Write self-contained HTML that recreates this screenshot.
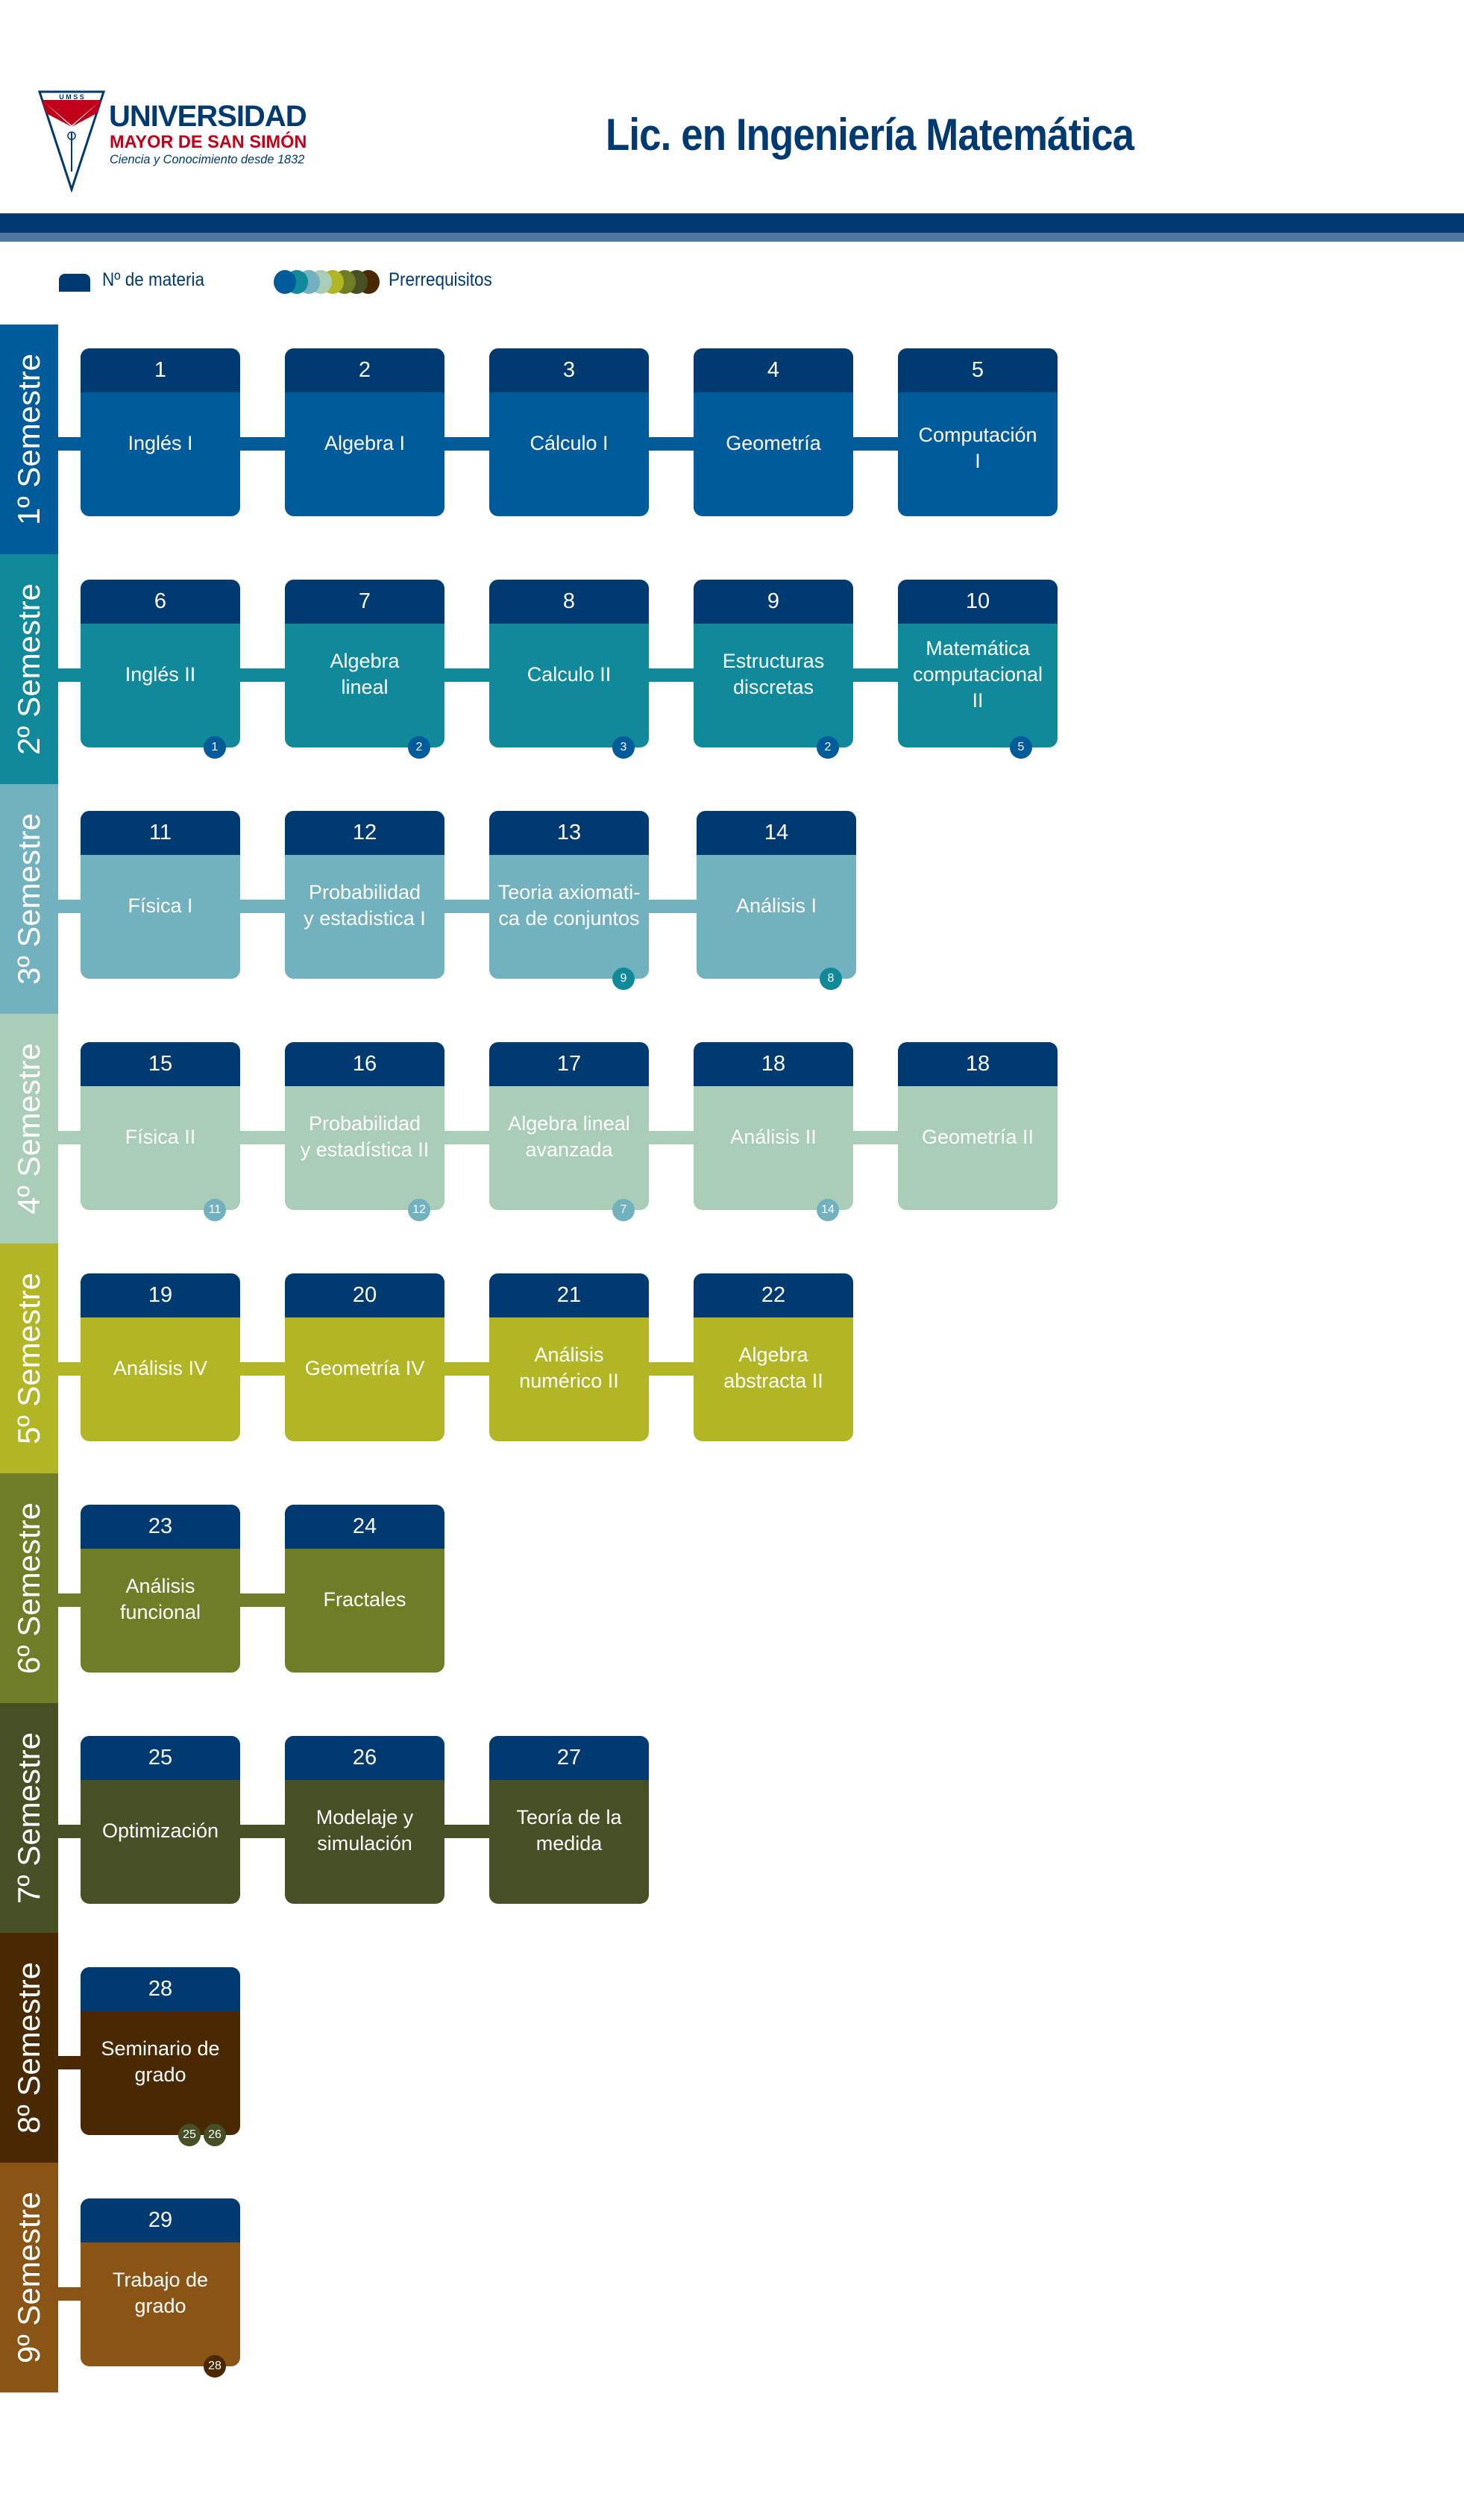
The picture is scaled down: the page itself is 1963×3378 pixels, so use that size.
<!DOCTYPE html>
<html><head><meta charset="utf-8">
<style>
*{margin:0;padding:0;box-sizing:border-box}
body{width:1963px;height:3378px;background:#fff;position:relative;overflow:hidden;font-family:"Liberation Sans",sans-serif}
.a{position:absolute}
.bar{position:absolute;left:0;width:78px;height:308px}
.bar span{position:absolute;left:50%;top:50%;transform:translate(-50%,-50%) rotate(-90deg);white-space:nowrap;color:#fff;font-size:42px}
.con{position:absolute;left:0;height:18px}
.box{position:absolute;width:214px;height:225px;border-radius:12px;overflow:visible}
.box .h{position:absolute;left:0;top:0;width:100%;height:59px;background:#003a70;border-radius:12px 12px 0 0;color:#fff;font-size:29px;text-align:center;line-height:59px}
.box .t{position:absolute;left:0;top:0;width:100%;height:254px;display:flex;align-items:center;justify-content:center;text-align:center;color:#fff;font-size:27px;line-height:35px;padding:0 4px}
.b{position:absolute;width:30px;height:30px;border-radius:50%;color:#fff;font-size:16px;line-height:30px;text-align:center;top:210px}
</style></head><body>

<svg class="a" style="left:50px;top:120px" width="92" height="138" viewBox="0 0 92 138">
<polygon points="3,3 89,3 46,134" fill="#fff" stroke="#003a70" stroke-width="3"/>
<polygon points="6,14 46,50 86,14 80,32 46,50 12,32" fill="#c00018"/>
<polygon points="8,16 46,48 84,16 84,14 8,14" fill="#c00018"/>
<text x="46" y="13" font-size="9" fill="#003a70" text-anchor="middle" font-family="Liberation Sans" font-weight="bold">U M S S</text>
<line x1="46" y1="58" x2="46" y2="110" stroke="#003a70" stroke-width="2"/>
<circle cx="46" cy="62" r="5" fill="none" stroke="#003a70" stroke-width="1.5"/>
</svg>
<div class="a" style="left:146px;top:134px;font-size:40px;font-weight:bold;color:#003a70;transform:scaleX(1.0);transform-origin:left;white-space:nowrap;letter-spacing:-1px">UNIVERSIDAD</div>
<div class="a" style="left:147px;top:177px;font-size:24px;font-weight:bold;color:#c00018;transform:scaleX(.98);transform-origin:left;white-space:nowrap">MAYOR DE SAN SIMÓN</div>
<div class="a" style="left:147px;top:204px;font-size:17px;font-style:italic;color:#003a70;transform:scaleX(.96);transform-origin:left;white-space:nowrap">Ciencia y Conocimiento desde 1832</div>

<div class="a" style="left:812px;top:146px;font-size:60px;font-weight:bold;color:#003a70;transform:scaleX(.88);transform-origin:left;white-space:nowrap;letter-spacing:-1px">Lic. en Ingeniería Matemática</div>

<div class="a" style="left:0;top:286px;width:1963px;height:26px;background:#003a70"></div>
<div class="a" style="left:0;top:312px;width:1963px;height:12px;background:#4f77a0"></div>

<div class="a" style="left:79px;top:367px;width:42px;height:24px;background:#003a70;border-radius:8px 8px 0 0"></div>
<div class="a" style="left:137px;top:361px;font-size:25px;color:#003a70;white-space:nowrap;transform:scaleX(.9);transform-origin:left">Nº de materia</div>
<div class="a" style="left:367px;top:362px;width:150px;height:32px">
<div class="a" style="left:112px;top:0;width:30px;height:32px;border-radius:50%;background:#482903"></div>
<div class="a" style="left:96px;top:0;width:30px;height:32px;border-radius:50%;background:#474f25"></div>
<div class="a" style="left:80px;top:0;width:30px;height:32px;border-radius:50%;background:#6f7d27"></div>
<div class="a" style="left:64px;top:0;width:30px;height:32px;border-radius:50%;background:#b2b624"></div>
<div class="a" style="left:48px;top:0;width:30px;height:32px;border-radius:50%;background:#a9cdb6"></div>
<div class="a" style="left:32px;top:0;width:30px;height:32px;border-radius:50%;background:#72b1be"></div>
<div class="a" style="left:16px;top:0;width:30px;height:32px;border-radius:50%;background:#10899a"></div>
<div class="a" style="left:0;top:0;width:30px;height:32px;border-radius:50%;background:#005b9a"></div>
</div>
<div class="a" style="left:521px;top:361px;font-size:25px;color:#003a70;white-space:nowrap;transform:scaleX(.9);transform-origin:left">Prerrequisitos</div>

<div class="con" style="top:586px;width:1204px;background:#005b9a"></div>
<div class="bar" style="top:435px;background:#005b9a"><span>1º Semestre</span></div>
<div class="box" style="left:108px;top:467px;background:#005b9a"><div class="h">1</div><div class="t">Inglés I</div></div>
<div class="box" style="left:382px;top:467px;background:#005b9a"><div class="h">2</div><div class="t">Algebra I</div></div>
<div class="box" style="left:656px;top:467px;background:#005b9a"><div class="h">3</div><div class="t">Cálculo I</div></div>
<div class="box" style="left:930px;top:467px;background:#005b9a"><div class="h">4</div><div class="t">Geometría</div></div>
<div class="box" style="left:1204px;top:467px;background:#005b9a"><div class="h">5</div><div class="t" style="padding-top:14px">Computación<br>I</div></div>

<div class="con" style="top:896px;width:1204px;background:#10899a"></div>
<div class="bar" style="top:743px;background:#10899a"><span>2º Semestre</span></div>
<div class="box" style="left:108px;top:777px;background:#10899a"><div class="h">6</div><div class="t">Inglés II</div><div class="b" style="left:165px;background:#005b9a">1</div></div>
<div class="box" style="left:382px;top:777px;background:#10899a"><div class="h">7</div><div class="t">Algebra<br>lineal</div><div class="b" style="left:165px;background:#005b9a">2</div></div>
<div class="box" style="left:656px;top:777px;background:#10899a"><div class="h">8</div><div class="t">Calculo II</div><div class="b" style="left:165px;background:#005b9a">3</div></div>
<div class="box" style="left:930px;top:777px;background:#10899a"><div class="h">9</div><div class="t">Estructuras<br>discretas</div><div class="b" style="left:165px;background:#005b9a">2</div></div>
<div class="box" style="left:1204px;top:777px;background:#10899a"><div class="h">10</div><div class="t">Matemática<br>computacional<br>II</div><div class="b" style="left:150px;background:#005b9a">5</div></div>

<div class="con" style="top:1206px;width:934px;background:#72b1be"></div>
<div class="bar" style="top:1051px;background:#72b1be"><span>3º Semestre</span></div>
<div class="box" style="left:108px;top:1087px;background:#72b1be"><div class="h">11</div><div class="t">Física I</div></div>
<div class="box" style="left:382px;top:1087px;background:#72b1be"><div class="h">12</div><div class="t">Probabilidad<br>y estadistica I</div></div>
<div class="box" style="left:656px;top:1087px;background:#72b1be"><div class="h">13</div><div class="t">Teoria axiomati-<br>ca de conjuntos</div><div class="b" style="left:165px;background:#10899a">9</div></div>
<div class="box" style="left:934px;top:1087px;background:#72b1be"><div class="h">14</div><div class="t">Análisis I</div><div class="b" style="left:165px;background:#10899a">8</div></div>

<div class="con" style="top:1516px;width:1204px;background:#a9cdb6"></div>
<div class="bar" style="top:1359px;background:#a9cdb6"><span>4º Semestre</span></div>
<div class="box" style="left:108px;top:1397px;background:#a9cdb6"><div class="h">15</div><div class="t">Física II</div><div class="b" style="left:165px;background:#72b1be">11</div></div>
<div class="box" style="left:382px;top:1397px;background:#a9cdb6"><div class="h">16</div><div class="t">Probabilidad<br>y estadística II</div><div class="b" style="left:165px;background:#72b1be">12</div></div>
<div class="box" style="left:656px;top:1397px;background:#a9cdb6"><div class="h">17</div><div class="t">Algebra lineal<br>avanzada</div><div class="b" style="left:165px;background:#72b1be">7</div></div>
<div class="box" style="left:930px;top:1397px;background:#a9cdb6"><div class="h">18</div><div class="t">Análisis II</div><div class="b" style="left:165px;background:#72b1be">14</div></div>
<div class="box" style="left:1204px;top:1397px;background:#a9cdb6"><div class="h">18</div><div class="t">Geometría II</div></div>

<div class="con" style="top:1826px;width:930px;background:#b2b624"></div>
<div class="bar" style="top:1667px;background:#b2b624"><span>5º Semestre</span></div>
<div class="box" style="left:108px;top:1707px;background:#b2b624"><div class="h">19</div><div class="t">Análisis IV</div></div>
<div class="box" style="left:382px;top:1707px;background:#b2b624"><div class="h">20</div><div class="t">Geometría IV</div></div>
<div class="box" style="left:656px;top:1707px;background:#b2b624"><div class="h">21</div><div class="t">Análisis<br>numérico II</div></div>
<div class="box" style="left:930px;top:1707px;background:#b2b624"><div class="h">22</div><div class="t">Algebra<br>abstracta II</div></div>

<div class="con" style="top:2136px;width:382px;background:#6f7d27"></div>
<div class="bar" style="top:1975px;background:#6f7d27"><span>6º Semestre</span></div>
<div class="box" style="left:108px;top:2017px;background:#6f7d27"><div class="h">23</div><div class="t">Análisis<br>funcional</div></div>
<div class="box" style="left:382px;top:2017px;background:#6f7d27"><div class="h">24</div><div class="t">Fractales</div></div>

<div class="con" style="top:2446px;width:656px;background:#474f25"></div>
<div class="bar" style="top:2283px;background:#474f25"><span>7º Semestre</span></div>
<div class="box" style="left:108px;top:2327px;background:#474f25"><div class="h">25</div><div class="t">Optimización</div></div>
<div class="box" style="left:382px;top:2327px;background:#474f25"><div class="h">26</div><div class="t">Modelaje y<br>simulación</div></div>
<div class="box" style="left:656px;top:2327px;background:#474f25"><div class="h">27</div><div class="t">Teoría de la<br>medida</div></div>

<div class="con" style="top:2756px;width:108px;background:#482903"></div>
<div class="bar" style="top:2591px;background:#482903"><span>8º Semestre</span></div>
<div class="box" style="left:108px;top:2637px;background:#482903"><div class="h">28</div><div class="t">Seminario de<br>grado</div><div class="b" style="left:131px;background:#474f25">25</div><div class="b" style="left:165px;background:#474f25">26</div></div>

<div class="con" style="top:3066px;width:108px;background:#8a5415"></div>
<div class="bar" style="top:2899px;background:#8a5415"><span>9º Semestre</span></div>
<div class="box" style="left:108px;top:2947px;background:#8a5415"><div class="h">29</div><div class="t">Trabajo de<br>grado</div><div class="b" style="left:165px;background:#482903">28</div></div>

</body></html>
